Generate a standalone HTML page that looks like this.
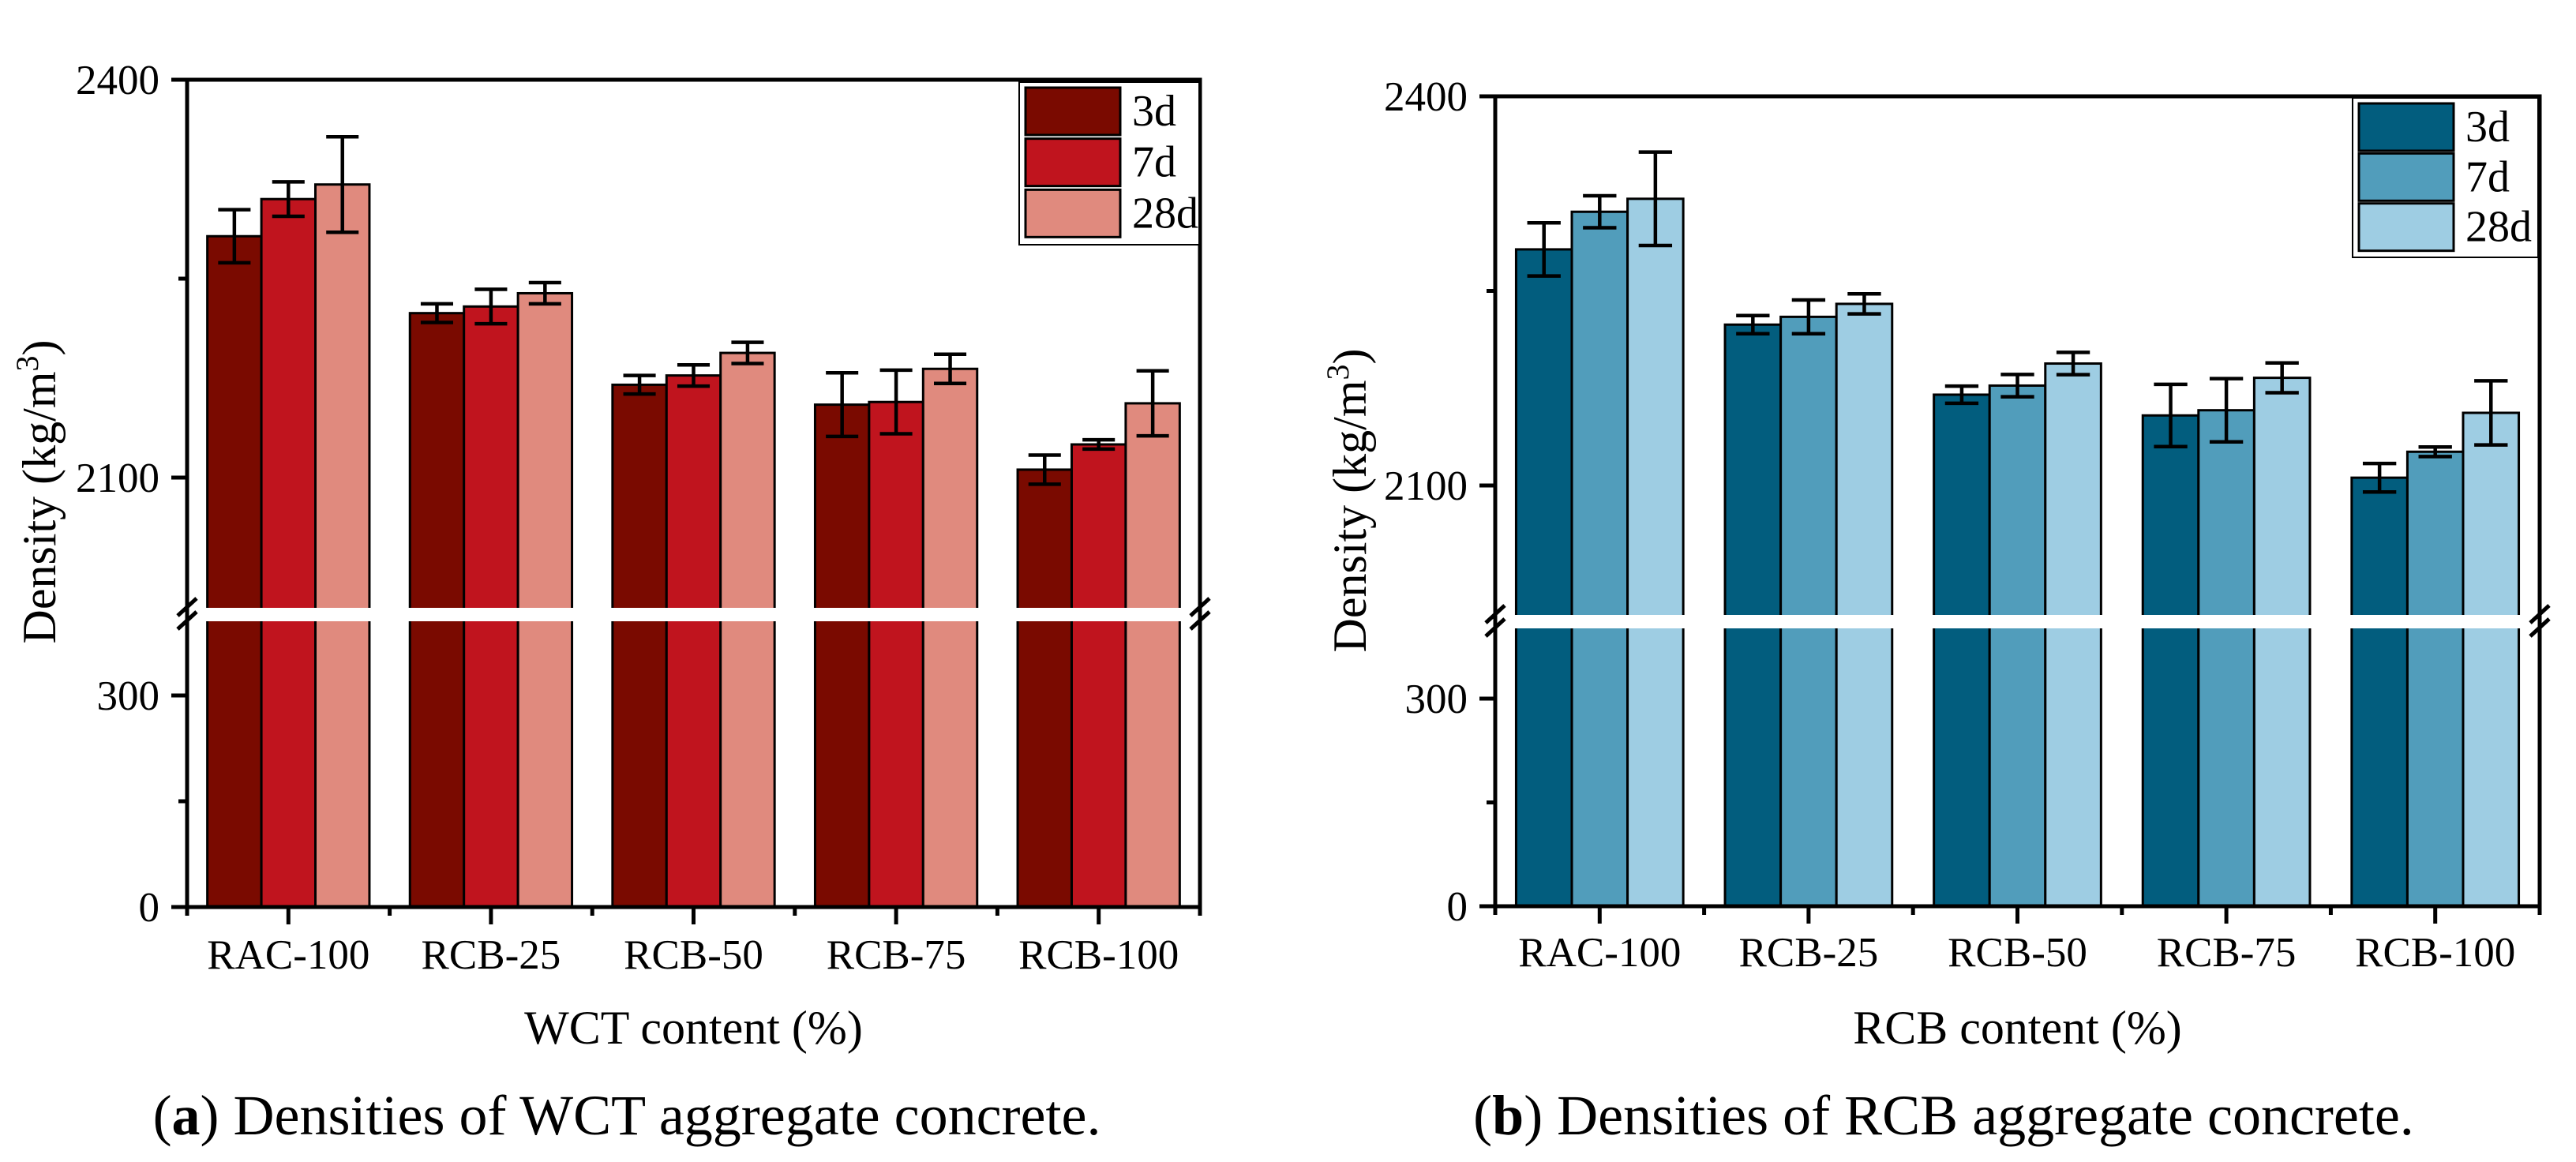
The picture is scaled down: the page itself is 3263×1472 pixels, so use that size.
<!DOCTYPE html>
<html><head><meta charset="utf-8"><style>
html,body{margin:0;padding:0;background:#fff;}
svg{display:block;font-family:"Liberation Serif",serif;}
</style></head><body>
<svg id="fig" width="3263" height="1472" viewBox="0 0 3263 1472" xmlns="http://www.w3.org/2000/svg">
<rect width="3263" height="1472" fill="#fff"/>
</svg>
<script>
const categories = ["RAC-100","RCB-25","RCB-50","RCB-75","RCB-100"];
const seriesNames = ["3d","7d","28d"];
const wctD3 = [2282,2224,2170,2155,2106];
const wctD7 = [2310,2229,2177,2157,2125];
const wctD28 = [2321,2239,2194,2182,2156];
const wctE3 = [20,7,7,24,11];
const wctE7 = [13,13,8,24,3.5];
const wctE28 = [36,8,8,11,24.5];
const rcbD3 = [2282,2224,2170,2154,2106];
const rcbD7 = [2311,2230,2177,2158,2126];
const rcbD28 = [2321,2240,2194,2183,2156];
const rcbE3 = [20.5,7,6.6,24,11];
const rcbE7 = [12.3,13,8.6,24.4,3.7];
const rcbE28 = [36,7.7,8.6,11.5,24.7];
const upperTicks = [2100,2400];
const lowerTicks = [0,300];
const minorTicks = [150,2250];

const NS="http://www.w3.org/2000/svg";
const svg=document.getElementById('fig');
function mk(tag,attrs,parent){const e=document.createElementNS(NS,tag);for(const k in attrs)e.setAttribute(k,attrs[k]);(parent||svg).appendChild(e);return e;}

function drawChart(o){
  const g=mk('g',{});
  
  
  const L=o.left,R=o.right,T=o.top,B=o.bottom;
  const uScale=(o.y2100-T)/300, lScale=(B-o.y300)/300;
  const y=v=> v>=2000 ? T+(2400-v)*uScale : B-v*lScale;
  const cw=(R-L)/categories.length, bw=cw*0.2667;
  const data=[o.d3,o.d7,o.d28], errs=[o.e3,o.e7,o.e28];
  // bars
  categories.forEach((c,i)=>{
    const cx=L+cw*(i+0.5);
    data.forEach((s,j)=>{
      const x=cx+(j-1.5)*bw;
      const r=mk('rect',{x:x,y:y(s[i]),width:bw,height:B-y(s[i]),fill:o.colors[j],stroke:'#000','stroke-width':3},g);
      
      
    });
  });
  // break gap
  mk('rect',{x:L+5,y:o.gapTop,width:R-L-10,height:o.gapBot-o.gapTop,fill:'#fff'},g);
  // error bars
  categories.forEach((c,i)=>{
    const cx=L+cw*(i+0.5);
    data.forEach((s,j)=>{
      const x=cx+(j-1)*bw;
      const e=errs[j][i], y1=y(s[i]+e), y2=y(s[i]-e), cap=bw*0.3;
      const eb=mk('path',{d:`M${x},${y1}V${y2}M${x-cap},${y1}H${x+cap}M${x-cap},${y2}H${x+cap}`,stroke:'#000','stroke-width':4.5,fill:'none'},g);
      
      
    });
  });
  // frame
  const fr=mk('rect',{x:L,y:T,width:R-L,height:B-T,fill:'none',stroke:'#000','stroke-width':5},g);
  
  
  // break marks
  [L,R].forEach(ax=>{
    const m=mk('path',{d:`M${ax-12},${o.gapTop+10}L${ax+12},${o.gapTop-12}M${ax-12},${o.gapBot+10}L${ax+12},${o.gapBot-12}`,stroke:'#000','stroke-width':5,fill:'none'},g);
    
    
  });
  // y ticks
  upperTicks.concat(lowerTicks).forEach(v=>{
    mk('line',{x1:L-20,x2:L,y1:y(v),y2:y(v),stroke:'#000','stroke-width':5},g);
    const t=mk('text',{x:L-35,y:y(v)+18,'text-anchor':'end','font-size':53},g);
    t.textContent=v;
    
    
  });
  minorTicks.forEach(v=>{mk('line',{x1:L-11,x2:L,y1:y(v),y2:y(v),stroke:'#000','stroke-width':5},g);});
  // x ticks
  for(let i=0;i<=categories.length;i++){
    const x=L+cw*i;
    mk('line',{x1:x,x2:x,y1:B,y2:B+11,stroke:'#000','stroke-width':5},g);
  }
  categories.forEach((c,i)=>{
    const cx=L+cw*(i+0.5);
    mk('line',{x1:cx,x2:cx,y1:B,y2:B+22,stroke:'#000','stroke-width':5},g);
    const t=mk('text',{x:cx,y:o.catY,'text-anchor':'middle','font-size':53},g);
    t.textContent=c;
    
    
  });
  // axis titles
  const xt=mk('text',{x:(L+R)/2,y:1322,'text-anchor':'middle','font-size':60},g);
  xt.textContent=o.xTitle;
  
  
  const yt=mk('text',{x:0,y:0,'text-anchor':'middle','font-size':60,transform:`translate(${o.ytX},${o.ytY}) rotate(-90)`},g);
  yt.innerHTML='Density (kg/m<tspan dy="-22" font-size="40">3</tspan><tspan dy="22">)</tspan>';
  
  
  // legend
  const lg=mk('g',{},g);
  
  
  mk('rect',{x:o.lgX,y:o.lgY,width:o.lgW,height:o.lgH,fill:'#fff',stroke:'#000','stroke-width':2},lg);
  seriesNames.forEach((n,j)=>{
    const ry=o.lgY+7+j*(o.lgH-12)/3;
    const sw=mk('rect',{x:o.lgX+8,y:ry,width:120,height:60,fill:o.colors[j],stroke:'#000','stroke-width':3},lg);
    
    
    const t=mk('text',{x:o.lgX+143,y:ry+48,'font-size':56},lg);
    t.textContent=n;
    
    
  });
  // caption
  const cap=mk('text',{x:o.capX,y:1437,'text-anchor':'middle','font-size':72},g);
  cap.innerHTML='(<tspan font-weight="bold">'+o.capLetter+'</tspan>) '+o.capText;
  
  
}

drawChart({name:'chart-wct',left:237,right:1520,top:101,bottom:1149,y2100:605,y300:881,gapTop:770,gapBot:787,
  d3:wctD3,d7:wctD7,d28:wctD28,e3:wctE3,e7:wctE7,e28:wctE28,colors:['#7a0a00','#c0141e','#e08a7e'],
  catY:1227,xTitle:'WCT content (%)',ytX:70,ytY:623,lgX:1291,lgY:104,lgW:228,lgH:206,
  capX:794,capLetter:'a',capText:'Densities of WCT aggregate concrete.'});
drawChart({name:'chart-rcb',left:1894,right:3217,top:122,bottom:1148,y2100:615,y300:885,gapTop:779,gapBot:796,
  d3:rcbD3,d7:rcbD7,d28:rcbD28,e3:rcbE3,e7:rcbE7,e28:rcbE28,colors:['#025d7e','#519dbb','#9ecde3'],
  catY:1224,xTitle:'RCB content (%)',ytX:1730,ytY:634,lgX:2980,lgY:124,lgW:235,lgH:202,
  capX:2462,capLetter:'b',capText:'Densities of RCB aggregate concrete.'});
</script>
</body></html>
